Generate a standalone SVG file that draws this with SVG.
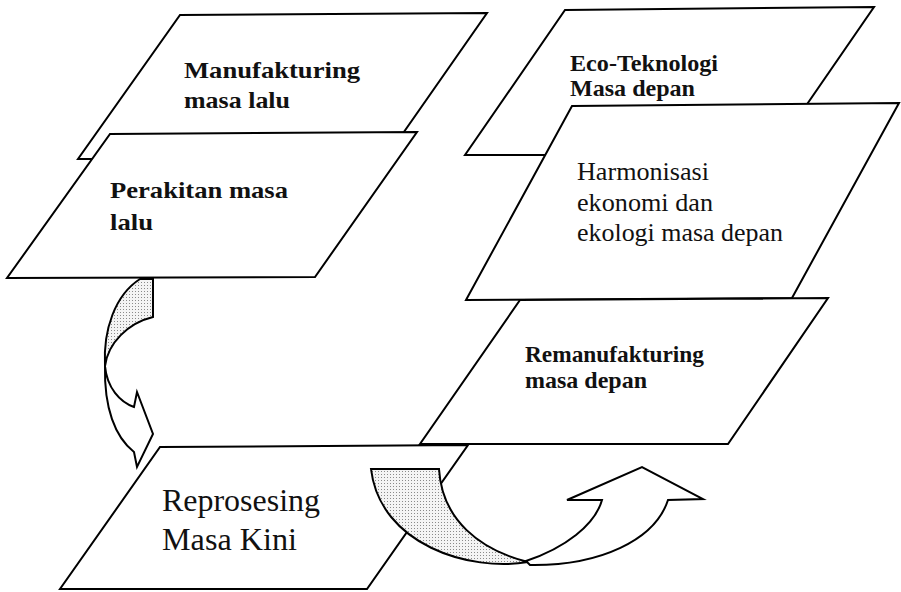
<svg xmlns="http://www.w3.org/2000/svg" width="901" height="592" viewBox="0 0 901 592">
<defs>
<pattern id="dots" width="3" height="3" patternUnits="userSpaceOnUse">
<rect width="3" height="3" fill="#f4f4f4"/>
<rect width="1" height="1" fill="#8a8a8a"/>
</pattern>
<style>
.box{fill:#fff;stroke:#000;stroke-width:2;stroke-linejoin:miter}
.arr{stroke:#000;stroke-width:2;stroke-linejoin:miter}
.b{font-family:"Liberation Serif","Times New Roman",serif;font-weight:bold;font-size:24px;fill:#111}
.r{font-family:"Liberation Serif","Times New Roman",serif;font-size:26px;fill:#111}
.L{font-family:"Liberation Serif","Times New Roman",serif;font-size:31px;fill:#111}
</style>
</defs>
<rect width="901" height="592" fill="#fff"/>
<g id="manufakturing">
<polygon class="box" points="180,15 487,13 385,159 78,159"/>
<text class="b" x="184" y="78" textLength="176" lengthAdjust="spacingAndGlyphs">Manufakturing</text>
<text class="b" x="184" y="108" textLength="106" lengthAdjust="spacingAndGlyphs">masa lalu</text>
</g>
<g id="perakitan">
<polygon class="box" points="110,134 417,132 315,277 7,278"/>
<text class="b" x="110" y="198" textLength="178" lengthAdjust="spacingAndGlyphs">Perakitan masa</text>
<text class="b" x="110" y="230" textLength="43" lengthAdjust="spacingAndGlyphs">lalu</text>
</g>
<g id="ecoteknologi">
<polygon class="box" points="565,10 874,7 772,155 465,155"/>
<text class="b" x="570" y="71" textLength="148" lengthAdjust="spacingAndGlyphs">Eco-Teknologi</text>
<text class="b" x="570" y="96" textLength="125" lengthAdjust="spacingAndGlyphs">Masa depan</text>
</g>
<g id="harmonisasi">
<polygon class="box" points="572,106 899,103 792,298 466,300"/>
<text class="r" x="577" y="180" textLength="132" lengthAdjust="spacingAndGlyphs">Harmonisasi</text>
<text class="r" x="577" y="211" textLength="136" lengthAdjust="spacingAndGlyphs">ekonomi dan</text>
<text class="r" x="577" y="241" textLength="206" lengthAdjust="spacingAndGlyphs">ekologi masa depan</text>
</g>
<g id="remanufakturing">
<polygon class="box" points="520,300 828,298 728,444 420,444"/>
<text class="b" x="525" y="362" textLength="179" lengthAdjust="spacingAndGlyphs">Remanufakturing</text>
<text class="b" x="525" y="388" textLength="122" lengthAdjust="spacingAndGlyphs">masa depan</text>
</g>
<g id="reprosesing">
<polygon class="box" points="160,447 468,445 367,589 60,589"/>
<text class="L" x="162" y="511" textLength="158" lengthAdjust="spacingAndGlyphs">Reprosesing</text>
<text class="L" x="162" y="550" textLength="135" lengthAdjust="spacingAndGlyphs">Masa Kini</text>
</g>
<g id="connectors">
<g id="arrow-left">
<path class="arr" fill="url(#dots)" d="M140,279 L153,279 L153,317 C128,323 108,343 105,366 C103,330 115,295 140,279 Z"/>
<path class="arr" fill="#fff" d="M105,366 C107,388 120,402 134,407 L137,392 L153,434 L137,467 L134,452 C115,437 104,408 105,366 Z"/>
</g>
<g id="arrow-right">
<path class="arr" fill="url(#dots)" d="M371,469 L439,469 C442,520 480,550 528,562 C470,572 380,545 371,469 Z"/>
<path class="arr" fill="#fff" d="M526,561 C565,548 595,525 602,500 L567,500 L642,467 L703,499 L668,500 C655,540 600,566 530,565 Z"/>
</g>
</g>
</svg>
